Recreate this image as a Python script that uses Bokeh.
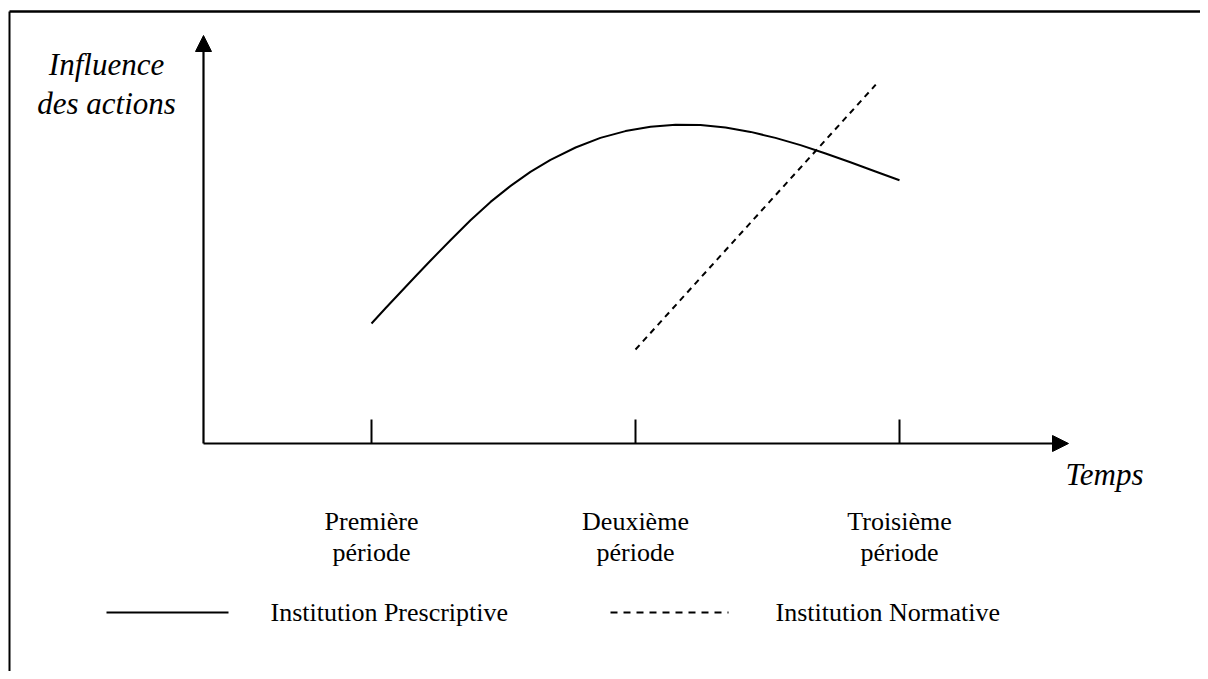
from bokeh.plotting import figure
from bokeh.models import Range1d, Arrow, NormalHead
from bokeh.core.properties import value
from bokeh.embed import file_html
from bokeh.resources import INLINE

# ---------------- data ----------------
period_pos = [1, 2, 3]
period_line1 = ["Première", "Deuxième", "Troisième"]
period_line2 = ["période", "période", "période"]

presc_t = [1.000, 1.053, 1.110, 1.167, 1.223, 1.299, 1.375, 1.451, 1.527, 1.602, 1.678,
           1.773, 1.867, 1.962, 2.057, 2.152, 2.246, 2.341, 2.436, 2.530, 2.625, 2.720,
           2.814, 2.909, 3.000]
presc_y = [3.00, 3.38, 3.78, 4.18, 4.57, 5.08, 5.58, 6.04, 6.44, 6.79, 7.09,
           7.40, 7.64, 7.81, 7.92, 7.97, 7.96, 7.90, 7.79, 7.64, 7.46, 7.25,
           7.03, 6.80, 6.58]

norm_t = [2.00, 2.91]
norm_y = [2.35, 8.97]

y_label = ["Influence", "des actions"]
x_label = "Temps"
legend_labels = ["Institution Prescriptive", "Institution Normative"]

# ---------------- layout helpers (screen px -> data) ----------------
PX_PER_T = 264.0
PX_PER_Y = 40.0
X0_PX = 371.0  # screen x of period 1
Y0_PX = 443.0  # screen y of time axis


def tx(px):
    return 1 + (px - X0_PX) / PX_PER_T


def ty(py):
    return (Y0_PX - py) / PX_PER_Y


W, H = 1200, 671
p = figure(width=W, height=H, output_backend="svg", toolbar_location=None,
           x_range=Range1d(tx(0), tx(W)), y_range=Range1d(ty(H), ty(0)),
           min_border=0, outline_line_color=None)
p.axis.visible = False
p.grid.visible = False
p.background_fill_color = "white"
p.border_fill_color = "white"

serif = value("Liberation Serif")

# page frame (top & left rules)
p.line([tx(9), tx(1208)], [ty(11), ty(11)], line_color="black", line_width=2.5)
p.line([tx(9), tx(9)], [ty(11), ty(679)], line_color="black", line_width=2)

# axes with arrows
p.add_layout(Arrow(x_start=tx(203), y_start=0, x_end=tx(1068), y_end=0,
                   line_width=2.2, line_color="black",
                   end=NormalHead(size=16, fill_color="black", line_color="black", line_width=1)))
p.add_layout(Arrow(x_start=tx(203), y_start=0, x_end=tx(203), y_end=ty(35),
                   line_width=2.2, line_color="black",
                   end=NormalHead(size=16, fill_color="black", line_color="black", line_width=1)))

# period ticks
p.segment(x0=period_pos, y0=[0] * 3, x1=period_pos, y1=[ty(419)] * 3,
          line_color="black", line_width=2)

# period labels
p.text(x=period_pos, y=[ty(521)] * 3, text=period_line1, text_font=serif,
       text_font_size="26px", text_align="center", text_baseline="alphabetic", text_color="black")
p.text(x=period_pos, y=[ty(552)] * 3, text=period_line2, text_font=serif,
       text_font_size="26px", text_align="center", text_baseline="alphabetic", text_color="black")

# axis titles
p.text(x=[tx(106), tx(106)], y=[ty(64), ty(103)], text=y_label, text_font=serif,
       text_font_style="italic", text_font_size="31px", text_align="center",
       text_baseline="alphabetic", text_color="black")
p.text(x=[tx(1104)], y=[ty(474)], text=[x_label], text_font=serif,
       text_font_style="italic", text_font_size="31px", text_align="center",
       text_baseline="alphabetic", text_color="black")

# series
p.line(presc_t, presc_y, line_color="black", line_width=2, line_join="round")
p.line(norm_t, norm_y, line_color="black", line_width=2, line_dash="6 5")

# legend (drawn manually)
p.line([tx(106), tx(228)], [ty(612), ty(612)], line_color="black", line_width=2)
p.line([tx(610), tx(728)], [ty(612), ty(612)], line_color="black", line_width=1.8, line_dash="7 6")
p.text(x=[tx(270), tx(775)], y=[ty(612)] * 2, text=legend_labels, text_font=serif,
       text_font_size="26px", text_align="left", text_baseline="alphabetic", text_color="black")

open("out.html", "w").write(file_html(p, INLINE))
